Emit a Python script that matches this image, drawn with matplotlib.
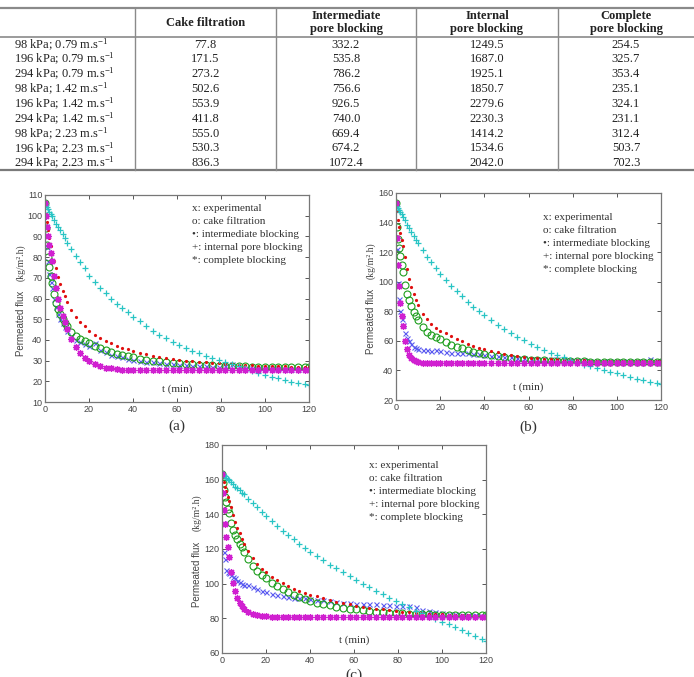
import matplotlib
matplotlib.use("Agg")
import matplotlib.pyplot as plt
from matplotlib.lines import Line2D

plt.rcParams['mathtext.default'] = 'regular'
SERIF = 'Liberation Serif'
SANS = 'Liberation Sans'

# ---------------- table data ----------------
row_labels = ["98 kPa; 0.79 m.s$^{-1}$", "196 kPa; 0.79 m.s$^{-1}$", "294 kPa; 0.79 m.s$^{-1}$",
              "98 kPa; 1.42 m.s$^{-1}$", "196 kPa; 1.42 m.s$^{-1}$", "294 kPa; 1.42 m.s$^{-1}$",
              "98 kPa; 2.23 m.s$^{-1}$", "196 kPa; 2.23 m.s$^{-1}$", "294 kPa; 2.23 m.s$^{-1}$"]
col_headers = ["Cake filtration", "Intermediate\npore blocking", "Internal\npore blocking", "Complete\npore blocking"]
cake_col = ["77.8", "171.5", "273.2", "502.6", "553.9", "411.8", "555.0", "530.3", "836.3"]
inter_col = ["332.2", "535.8", "786.2", "756.6", "926.5", "740.0", "669.4", "674.2", "1072.4"]
internal_col = ["1249.5", "1687.0", "1925.1", "1850.7", "2279.6", "2230.3", "1414.2", "1534.6", "2042.0"]
complete_col = ["254.5", "325.7", "353.4", "235.1", "324.1", "231.1", "312.4", "503.7", "702.3"]

# ---------------- plot data ----------------
t = [0, 0.5, 1, 1.5, 2, 2.5, 3, 4, 5, 6, 7, 8, 9, 10, 12, 14, 16, 18, 20,
     22.5, 25, 27.5, 30, 32.5, 35, 37.5, 40,
     43, 46, 49, 52, 55, 58, 61, 64, 67, 70, 73, 76, 79, 82, 85, 88, 91, 94, 97, 100,
     103, 106, 109, 112, 115, 118, 120]

# panel (a)
exp_a = [106, 95, 85, 78, 72, 68, 65, 60, 56, 52.5, 50, 48, 46, 44.5, 42, 40, 39, 38, 37,
         38.5, 35, 34, 32.5, 32, 31.5, 31, 30.5,
         30, 29.5, 29.5, 29, 28.5, 28.5, 28, 28, 27.5, 27.5, 27.5, 27, 27, 27.5, 28.5, 27, 26.5, 26.5, 26.5, 26.5,
         26.5, 26.5, 26, 26, 26, 26, 26]
cake_a = [106, 94, 86, 80, 75, 71, 67.5, 62, 58, 55, 52.5, 50, 48, 46.5, 44, 42, 40.5, 39.3, 38.3,
          37, 36, 35, 34, 33.3, 32.6, 32, 31.5,
          31, 30.5, 30, 29.6, 29.3, 29, 28.7, 28.5, 28.3, 28.1, 27.9, 27.8, 27.6, 27.5, 27.4, 27.3, 27.2, 27.1, 27.0, 27.0,
          26.9, 26.9, 26.8, 26.8, 26.7, 26.7, 26.7]
inter_a = [106, 101, 97, 93, 89, 85.5, 82, 78, 74.5, 70.5, 67, 63.5, 61, 58.5, 54.5, 51, 48.5, 46.5, 44.5,
           42.5, 41, 39.5, 38.3, 37.2, 36.2, 35.4, 34.6,
           33.8, 33, 32.4, 31.8, 31.3, 30.8, 30.4, 30, 29.7, 29.4, 29.1, 28.8, 28.6, 28.4, 28.2, 28.0, 27.9, 27.7, 27.6, 27.5,
           27.4, 27.3, 27.2, 27.1, 27.0, 27.0, 26.9]
internal_a = [106, 105, 104, 103, 102, 101, 100, 98, 96, 94.5, 93, 91, 89, 87, 84, 80.5, 77.5, 74.5, 71,
              68, 65, 62.5, 60, 57.5, 55.5, 53.5, 51,
              49, 46.5, 44.5, 42.5, 41, 39, 37.5, 36, 34.5, 33.5, 32.3, 31.2, 30.2, 29.3, 28.3, 27.2, 26.2, 25.2, 24.2, 23.2,
              22.3, 21.4, 20.6, 19.9, 19.2, 18.5, 18]
complete_a = [106, 100, 94.5, 90, 86, 82, 78, 71, 65, 60, 55.5, 51.5, 48.5, 45.5, 40.5, 36.5, 33.5, 31.3, 29.7,
              28.3, 27.3, 26.6, 26.2, 25.9, 25.7, 25.5, 25.4,
              25.3, 25.3, 25.3, 25.3, 25.3, 25.3, 25.3, 25.3, 25.3, 25.3, 25.3, 25.3, 25.3, 25.3, 25.3, 25.3, 25.3, 25.3, 25.3, 25.3,
              25.3, 25.3, 25.3, 25.3, 25.3, 25.3, 25.3]

# panel (b)
exp_b = [153, 122, 99, 88, 80, 75, 71, 65, 62, 60, 58, 56, 55, 54.5, 54, 53.5, 53, 53.5, 53,
         52.5, 52, 52, 51.5, 51.5, 51, 51, 50.5,
         50, 49.5, 49, 49, 48.5, 48.5, 48, 48, 47.5, 47.5, 47.5, 47, 47, 47, 47, 46.5, 46.5, 46.5, 46.5, 46.5,
         46.5, 46.5, 46.5, 46.5, 47.5, 46.5, 46.5]
cake_b = [153, 137, 129, 123, 117.5, 111.5, 106.5, 98, 92, 87.5, 83.5, 79.5, 76.5, 74, 69.5, 66, 64, 62.5, 61,
          59, 57.5, 56, 55, 53.8, 52.8, 51.8, 51,
          50.2, 49.5, 48.8, 48.3, 47.9, 47.5, 47.2, 47, 46.8, 46.6, 46.5, 46.4, 46.3, 46.2, 46.1, 46, 46, 45.9, 45.9, 45.8,
          45.8, 45.8, 45.7, 45.7, 45.7, 45.7, 45.7]
inter_b = [153, 148, 141.5, 137, 133, 128.5, 124, 116.5, 108.5, 102, 96.5, 91.5, 87.5, 84, 78.5, 74.5, 71.5, 69, 67,
           65, 63, 61.3, 59.7, 58.2, 56.8, 55.5, 54.5,
           53.3, 52.2, 51.2, 50.4, 49.7, 49.1, 48.6, 48.2, 47.9, 47.6, 47.4, 47.2, 47, 46.9, 46.8, 46.7, 46.6, 46.5, 46.4, 46.4,
           46.3, 46.3, 46.2, 46.2, 46.2, 46.1, 46.1]
internal_b = [153, 151.5, 150, 148.5, 147, 145.5, 144, 141.5, 138.5, 136, 133.5, 131, 128.5, 126, 121.5, 117, 113, 109, 105.5,
              101, 97, 93.5, 90, 86.5, 83, 80, 77.5,
              74, 71, 68, 65, 62.5, 60.5, 58, 56, 54, 52, 50.5, 49, 47, 45.5, 44, 43, 41.5, 40.5, 39, 38,
              37, 35.5, 34.5, 33.5, 32.5, 31.5, 31]
complete_b = [153, 129.5, 111, 97, 85.5, 76.5, 70, 60, 54.5, 50.5, 48.5, 47, 46.3, 45.8, 45.3, 45.1, 45, 45, 45,
              45, 45, 45, 45, 45, 45, 45, 45,
              45, 45, 45, 45, 45, 45, 45, 45, 45, 45, 45, 45, 45, 45, 45, 45, 45, 45, 45, 45,
              45, 45, 45, 45, 45, 45, 45]

# panel (c)
exp_c = [163.5, 135, 118, 114, 108, 107, 106, 105, 104, 103, 101.5, 101, 100, 99.5, 99, 98, 97, 96, 95,
         94, 93.5, 93, 92.5, 92, 91.5, 91.5, 91,
         90.5, 90.5, 90, 89.5, 89, 89, 88.5, 88.5, 88, 88, 87.5, 87.5, 87, 87, 87, 86.5, 85, 84, 83.5, 83,
         82.5, 82.5, 82, 82, 82, 81.5, 81.5]
cake_c = [163.5, 158, 154, 150, 147, 143, 140.5, 135, 131, 128, 125.5, 123, 121, 118.5, 114, 110, 107.5, 105, 103,
          100.5, 98.7, 97, 95.2, 93.6, 92.2, 91, 90,
          89, 88.2, 87.5, 86.8, 86.2, 85.6, 85.1, 84.6, 84.2, 83.8, 83.5, 83.2, 83, 82.8, 82.6, 82.5, 82.4, 82.3, 82.2, 82.1,
          82.1, 82, 82, 82, 82, 82, 82]
inter_c = [163.5, 161.5, 158.5, 156, 153.5, 150, 147.5, 144, 139.5, 135.5, 132, 129, 126, 123, 119, 115, 111.5, 108.5, 106.5,
           104, 102, 100.3, 98.6, 97.2, 96, 94.8, 93.7,
           92.6, 91.5, 90.5, 89.6, 88.8, 88, 87.3, 86.7, 86.1, 85.6, 85.1, 84.6, 84.2, 83.8, 83.5, 83.2, 82.9, 82.7, 82.5, 82.3,
           82.1, 82, 81.8, 81.7, 81.6, 81.5, 81.4]
internal_c = [163.5, 163, 162.5, 162, 161, 160.5, 160, 158.5, 157.5, 156, 155, 154, 152.5, 151.5, 149, 146.5, 144, 141.5, 139,
              136, 133.5, 130.5, 128, 125.5, 123, 120.5, 118.5,
              116, 113.5, 111, 109, 106.5, 104.5, 102, 100, 98, 96, 94, 92, 90, 88.5, 86.5, 84.5, 83, 81, 79.5, 78,
              76.5, 75, 73, 71.5, 70, 68, 67]
complete_c = [163.5, 152.5, 142.5, 134.5, 127, 121, 115.5, 107, 100.5, 95.5, 92, 89, 87, 85.5, 83.5, 82.5, 81.8, 81.4, 81.2,
              81, 81, 81, 81, 81, 81, 81, 81,
              81, 81, 81, 81, 81, 81, 81, 81, 81, 81, 81, 81, 81, 81, 81, 81, 81, 81, 81, 81,
              81, 81, 81, 81, 81, 81, 81]

panels = [
    dict(series=[exp_a, cake_a, inter_a, internal_a, complete_a], ylim=(10, 110), yticks=range(10, 111, 10), label="(a)"),
    dict(series=[exp_b, cake_b, inter_b, internal_b, complete_b], ylim=(20, 160), yticks=range(20, 161, 20), label="(b)"),
    dict(series=[exp_c, cake_c, inter_c, internal_c, complete_c], ylim=(60, 180), yticks=range(60, 181, 20), label="(c)"),
]
for p in panels:
    for s in p['series']:
        assert len(s) == len(t), (p['label'], len(s))

legend_lines = ["x: experimental", "o: cake filtration", "\u2022: intermediate blocking",
                "+: internal pore blocking", "*: complete blocking"]

# ---------------- figure ----------------
W, H = 694, 677
fig = plt.figure(figsize=(W / 100, H / 100), dpi=100)

def fx(px):
    return px / W

def fy(py):
    return 1 - py / H

def hline(x0, x1, y, lw=1.2, color='#8a8a8a'):
    fig.add_artist(Line2D([fx(x0), fx(x1)], [fy(y), fy(y)], transform=fig.transFigure, lw=lw, color=color))

def vline(x, y0, y1, lw=1.0, color='#8a8a8a'):
    fig.add_artist(Line2D([fx(x), fx(x)], [fy(y0), fy(y1)], transform=fig.transFigure, lw=lw, color=color))

# table
hline(0, W, 7.5, lw=1.6)
hline(0, W, 37, lw=1.2)
hline(0, W, 170, lw=1.6, color='#7a7a7a')
for xv in [135, 276, 416, 558]:
    vline(xv, 7.5, 170)
col_centers = [205.5, 346, 487, 626]
for cx, hdr in zip(col_centers, col_headers):
    fig.text(fx(cx), fy(22.5), hdr, ha='center', va='center', family=SERIF, fontsize=9,
             fontweight='bold', linespacing=1.15, color='#222222')
row_y0, row_dy = 44.5, 14.85
for i, lab in enumerate(row_labels):
    y = row_y0 + i * row_dy
    fig.text(fx(14), fy(y), lab, ha='left', va='center', family=SERIF, fontsize=9, color='#222222')
    for cx, col in zip(col_centers, [cake_col, inter_col, internal_col, complete_col]):
        fig.text(fx(cx), fy(y), col[i], ha='center', va='center', family=SERIF, fontsize=9, color='#222222')

# axes rectangles in pixel coords (left, top, right, bottom)
boxes = [(45, 195, 309, 402), (396, 193, 661, 400), (222, 445, 486, 653)]
ylab_x = [21, 371, 197]
styles = [
    dict(marker='x', color='#5a5af0', ms=3.6, mew=0.8, mfc='none'),
    dict(marker='o', color='#1e9e1e', ms=5.0, mew=0.8, mfc='none'),
    dict(marker='o', color='#e01010', ms=2.3, mew=0.0),
    dict(marker='+', color='#28c4c4', ms=5.0, mew=0.9),
    dict(marker=(8, 2, 0), color='#d020d0', ms=5.0, mew=0.9),
]

for p, (l, tp, r, b), ylx in zip(panels, boxes, ylab_x):
    ax = fig.add_axes([fx(l), fy(b), (r - l) / W, (b - tp) / H])
    for s, st in zip(p['series'], styles):
        ax.plot(t, s, linestyle='none', **st)
    ax.set_xlim(0, 120)
    ax.set_ylim(*p['ylim'])
    ax.set_xticks(range(0, 121, 20))
    ax.set_yticks(list(p['yticks']))
    ax.tick_params(direction='in', length=3, width=0.7, top=True, right=True, colors='#555555',
                   labelsize=6.5, pad=2, labelcolor='#444444')
    for lab in ax.get_xticklabels() + ax.get_yticklabels():
        lab.set_family(SANS)
    for sp in ax.spines.values():
        sp.set_color('#777777')
        sp.set_linewidth(0.9)
    # legend text
    lx = 0.555
    ly0 = {"(a)": 0.935, "(b)": 0.88, "(c)": 0.90}[p['label']]
    for k, txt in enumerate(legend_lines):
        ax.text(lx, ly0 - k * 0.0625, txt, transform=ax.transAxes, family=SERIF, fontsize=8,
                color='#333333', ha='left', va='center')
    ax.text(0.5, 0.06, "t (min)", transform=ax.transAxes, family=SERIF, fontsize=8,
            color='#333333', ha='center', va='center')
    # y labels
    cy = (tp + b) / 2
    fig.text(fx(ylx), fy(cy + 25), "Permeated flux", rotation=90, ha='center', va='center',
             family=SANS, fontsize=7, color='#444444')
    fig.text(fx(ylx), fy(cy - 36), "(kg/m\u00b2.h)", rotation=90, ha='center', va='center',
             family=SERIF, fontsize=7, color='#444444')
    # panel label
    plab_y = {"(a)": 426, "(b)": 427, "(c)": 675}[p['label']]
    fig.text(fx((l + r) / 2), fy(plab_y), p['label'], ha='center', va='center', family=SERIF,
             fontsize=11, color='#333333')

fig.savefig("out.png", dpi=100)
